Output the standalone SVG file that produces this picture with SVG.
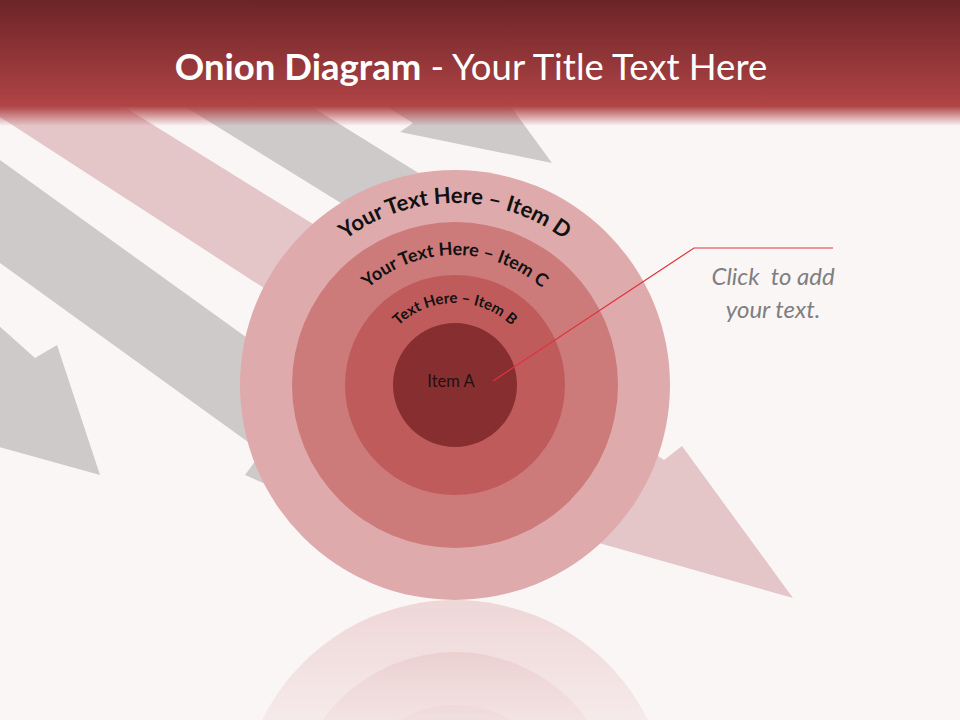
<svg xmlns="http://www.w3.org/2000/svg" width="960" height="720" viewBox="0 0 960 720">
  <defs>
    <style>
      .gray { fill: #cfcaca; }
      .pink { fill: #e5c6c8; }
      .ringD { fill: #dfaaab; }
      .ringC { fill: #cd7a7b; }
      .ringB { fill: #c05b5c; }
      .ringA { fill: #862e30; }
      .arc { font-family: Lato, "Open Sans", sans-serif; font-weight: bold; fill: #111111; }
      .title { font-family: Lato, "Open Sans", sans-serif; fill: #ffffff; font-size: 36.5px; }
      .note { font-family: Lato, "Open Sans", sans-serif; font-style: italic; fill: #7f7f7f; font-size: 24px; }
      .link { fill: none; stroke: #e0343c; stroke-width: 1.2; }
    </style>
    <linearGradient id="hdr" x1="0" y1="0" x2="0" y2="106" gradientUnits="userSpaceOnUse">
      <stop offset="0" stop-color="#6c2427"/>
      <stop offset="1" stop-color="#b04446"/>
    </linearGradient>
    <linearGradient id="fade" x1="0" y1="106" x2="0" y2="126" gradientUnits="userSpaceOnUse">
      <stop offset="0" stop-color="#b04446" stop-opacity="1"/>
      <stop offset="1" stop-color="#b04446" stop-opacity="0"/>
    </linearGradient>
    <linearGradient id="reflGrad" x1="0" y1="600" x2="0" y2="720" gradientUnits="userSpaceOnUse">
      <stop offset="0" stop-color="#ffffff" stop-opacity="0.42"/>
      <stop offset="1" stop-color="#ffffff" stop-opacity="0.15"/>
    </linearGradient>
    <mask id="reflMask" maskUnits="userSpaceOnUse" x="0" y="600" width="960" height="120">
      <rect x="0" y="600" width="960" height="120" fill="url(#reflGrad)"/>
    </mask>
    <path id="arcD" d="M 273,385 A 182,182 0 0 1 637,385"/>
    <path id="arcC" d="M 325,385 A 130,130 0 0 1 585,385"/>
    <path id="arcB" d="M 373,385 A 82,82 0 0 1 537,385"/>
  </defs>

  <rect id="background" x="0" y="0" width="960" height="720" fill="#faf6f6"/>

  <g id="arrows">
    <polygon class="gray" points="-50,124 300,376 330,350 440,560 245,475 262,452 -50,227"/>
    <polygon class="gray" points="-120,220 35,358 57,345 100,475 -40,436 -120,420"/>
    <polygon class="gray" points="150,85 220,50 470,205 420,252"/>
    <polygon class="gray" points="300,53 413,123 400,132 552,163 490,78 470,30 320,30"/>
    <polygon class="pink" points="60,67 313,224 640,444 664,460 682,446 793,598 560,532 575,510 270,292 -60,78"/>
  </g>

  <g id="header">
    <rect x="0" y="0" width="960" height="106" fill="url(#hdr)"/>
    <rect x="0" y="106" width="960" height="20" fill="url(#fade)"/>
    <text class="title" x="471" y="80" text-anchor="middle"><tspan font-weight="bold">Onion Diagram</tspan> - Your Title Text Here</text>
  </g>

  <g id="reflection" mask="url(#reflMask)">
    <circle class="ringD" cx="455" cy="815" r="215"/>
    <circle class="ringC" cx="455" cy="815" r="163"/>
    <circle class="ringB" cx="455" cy="815" r="110"/>
    <circle class="ringA" cx="455" cy="815" r="62"/>
  </g>

  <g id="item-d">
    <circle class="ringD" cx="455" cy="385" r="215"/>
    <text class="arc" font-size="22"><textPath href="#arcD" startOffset="50%" text-anchor="middle">Your Text Here – Item D</textPath></text>
  </g>
  <g id="item-c">
    <circle class="ringC" cx="455" cy="385" r="163"/>
    <text class="arc" font-size="18"><textPath href="#arcC" startOffset="50%" text-anchor="middle">Your Text Here – Item C</textPath></text>
  </g>
  <g id="item-b">
    <circle class="ringB" cx="455" cy="385" r="110"/>
    <text class="arc" font-size="15"><textPath href="#arcB" startOffset="50%" text-anchor="middle">Text Here – Item B</textPath></text>
  </g>
  <g id="item-a">
    <circle class="ringA" cx="455" cy="385" r="62"/>
    <text x="451" y="387" text-anchor="middle" font-family="Lato, 'Open Sans', sans-serif" font-size="16.5" fill="#241010">Item A</text>
  </g>

  <g id="connectors">
    <polyline class="link" points="493,381 694,248 833,248"/>
  </g>

  <g id="callout">
    <text class="note" x="773" y="285" text-anchor="middle" xml:space="preserve" style="white-space:pre">Click  to add</text>
    <text class="note" x="773" y="318" text-anchor="middle">your text.</text>
  </g>
</svg>
